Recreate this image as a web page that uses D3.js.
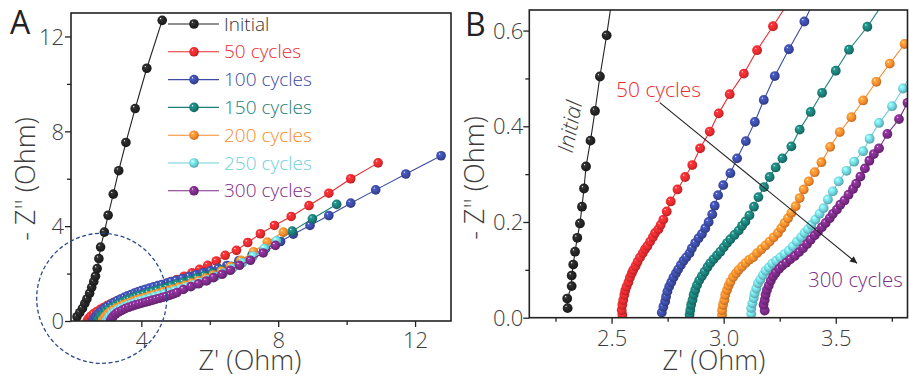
<!DOCTYPE html>
<html><head><meta charset="utf-8">
<script src="https://cdn.jsdelivr.net/npm/d3@7"></script>
<style>
body{margin:0;background:#fff;}
svg{display:block;font-family:"Open Sans","DejaVu Sans",sans-serif;}
</style></head><body>
<svg id="c" width="909" height="379"></svg>
<script>
// ---------- DATA ----------
const seriesNames = ["Initial","50 cycles","100 cycles","150 cycles","200 cycles","250 cycles","300 cycles"];
const seriesColors = ["#222222","#ea2b2f","#3c4ba4","#1b7e77","#f68b2d","#6fd0da","#7c2b87"];
const textColors = ["#333333","#ea2b2f","#3c4ba4","#1b7e77","#f68b2d","#6fd0da","#7c2b87"];

// Panel A (full spectra)
const initialA = [[2.12,0.18],[2.20,0.35],[2.28,0.53],[2.35,0.74],[2.41,0.93],[2.49,1.17],[2.55,1.42],[2.61,1.66],[2.66,1.89],[2.71,2.21],[2.76,2.63],[2.81,3.12],[2.92,3.75],[3.03,4.46],[3.18,5.35],[3.34,6.34],[3.55,7.53],[3.82,8.96],[4.16,10.66],[4.61,12.68]];
const cyc50A = [[2.42,0.02],[2.46,0.1],[2.52,0.2],[2.6,0.3],[2.7,0.4],[2.8,0.49],[2.9,0.57],[3.0,0.65],[3.1,0.72],[3.2,0.79],[3.3,0.85],[3.4,0.91],[3.5,0.96],[3.6,1.01],[3.7,1.06],[3.8,1.11],[3.9,1.16],[4.0,1.21],[4.12,1.27],[4.24,1.33],[4.36,1.39],[4.48,1.45],[4.6,1.51],[4.72,1.57],[4.84,1.64],[5.04,1.75],[5.25,1.89],[5.48,2.03],[5.70,2.18],[5.94,2.35],[6.19,2.53],[6.45,2.77],[6.78,2.98],[7.11,3.31],[7.48,3.68],[7.89,4.03],[8.38,4.41],[8.90,4.87],[9.48,5.39],[10.12,6.0],[10.92,6.67]];
const cyc100A = [[2.58,0.02],[2.62,0.1],[2.67,0.2],[2.74,0.31],[2.82,0.42],[2.91,0.52],[3.0,0.61],[3.1,0.7],[3.2,0.78],[3.3,0.86],[3.4,0.93],[3.5,1.0],[3.6,1.06],[3.7,1.12],[3.8,1.18],[3.9,1.23],[4.0,1.28],[4.12,1.34],[4.24,1.39],[4.36,1.44],[4.48,1.49],[4.6,1.54],[4.74,1.6],[4.88,1.66],[5.02,1.72],[5.2,1.79],[5.4,1.87],[5.6,1.95],[5.8,2.03],[6.02,2.12],[6.25,2.22],[6.5,2.34],[6.85,2.55],[7.24,2.8],[7.63,3.05],[8.07,3.35],[8.44,3.66],[8.93,4.03],[9.48,4.45],[10.12,4.97],[10.85,5.53],[11.73,6.20],[12.76,6.97]];
const cyc150A = [[2.72,0.02],[2.76,0.1],[2.81,0.2],[2.88,0.3],[2.96,0.4],[3.05,0.49],[3.15,0.58],[3.25,0.66],[3.35,0.73],[3.45,0.8],[3.55,0.86],[3.65,0.92],[3.75,0.97],[3.85,1.02],[3.95,1.07],[4.07,1.12],[4.2,1.18],[4.33,1.24],[4.46,1.3],[4.6,1.36],[4.74,1.42],[4.88,1.48],[5.04,1.55],[5.22,1.63],[5.42,1.72],[5.62,1.81],[5.84,1.91],[6.08,2.02],[6.34,2.15],[6.62,2.31],[6.92,2.51],[7.24,2.75],[7.58,3.02],[7.96,3.36],[8.41,3.79],[9.0,4.31],[9.71,4.92]];
const cyc200A = [[2.86,0.02],[2.9,0.1],[2.95,0.2],[3.02,0.3],[3.1,0.39],[3.19,0.47],[3.28,0.55],[3.38,0.62],[3.48,0.68],[3.58,0.74],[3.68,0.79],[3.78,0.84],[3.88,0.89],[3.98,0.94],[4.1,0.99],[4.23,1.05],[4.36,1.11],[4.5,1.17],[4.64,1.23],[4.78,1.29],[4.93,1.35],[5.1,1.43],[5.28,1.51],[5.47,1.6],[5.67,1.7],[5.88,1.81],[6.1,1.94],[6.34,2.1],[6.6,2.3],[6.91,2.56],[7.28,2.92],[7.68,3.33],[8.15,3.75]];
const cyc250A = [[2.98,0.02],[3.02,0.1],[3.07,0.2],[3.14,0.3],[3.22,0.39],[3.31,0.47],[3.41,0.54],[3.51,0.6],[3.61,0.66],[3.71,0.71],[3.81,0.76],[3.91,0.81],[4.01,0.86],[4.13,0.91],[4.26,0.97],[4.4,1.03],[4.54,1.09],[4.68,1.15],[4.83,1.21],[4.99,1.28],[5.16,1.36],[5.34,1.44],[5.53,1.53],[5.73,1.63],[5.94,1.74],[6.16,1.87],[6.4,2.02],[6.66,2.21],[6.95,2.45],[7.27,2.74],[7.6,3.06],[7.95,3.38]];
const cyc300A = [[3.1,0.02],[3.13,0.1],[3.18,0.2],[3.25,0.3],[3.33,0.38],[3.43,0.45],[3.53,0.52],[3.63,0.58],[3.73,0.63],[3.83,0.68],[3.93,0.72],[4.03,0.76],[4.13,0.8],[4.23,0.84],[4.33,0.88],[4.43,0.92],[4.53,0.96],[4.63,1.0],[4.73,1.04],[4.84,1.09],[4.94,1.14],[5.04,1.2],[5.23,1.33],[5.45,1.45],[5.67,1.57],[5.90,1.69],[6.11,1.83],[6.36,1.97],[6.60,2.14],[6.87,2.35],[7.19,2.56],[7.56,2.87],[7.92,3.19]];

// Panel B (high-frequency zoom)
const initialB = [[2.304,0.020],[2.302,0.040],[2.322,0.066],[2.322,0.088],[2.329,0.111],[2.337,0.138],[2.347,0.167],[2.359,0.197],[2.368,0.232],[2.377,0.270],[2.386,0.316],[2.406,0.370],[2.426,0.432],[2.448,0.504],[2.478,0.590],[2.50,0.66]];
const cyc50B = [[2.548,0.006],[2.545,0.016],[2.548,0.027],[2.552,0.037],[2.557,0.048],[2.561,0.057],[2.567,0.065],[2.575,0.074],[2.582,0.084],[2.590,0.093],[2.597,0.100],[2.607,0.108],[2.616,0.117],[2.627,0.126],[2.639,0.135],[2.649,0.143],[2.660,0.150],[2.672,0.159],[2.684,0.168],[2.694,0.177],[2.709,0.185],[2.719,0.194],[2.731,0.205],[2.746,0.222],[2.764,0.243],[2.794,0.268],[2.828,0.294],[2.860,0.319],[2.895,0.354],[2.938,0.389],[2.978,0.427],[3.027,0.467],[3.090,0.510],[3.149,0.559],[3.220,0.609],[3.29,0.66]];
const cyc100B = [[2.724,0.011],[2.731,0.023],[2.739,0.034],[2.743,0.044],[2.749,0.055],[2.757,0.065],[2.766,0.074],[2.776,0.084],[2.787,0.093],[2.797,0.101],[2.809,0.110],[2.821,0.119],[2.833,0.126],[2.848,0.135],[2.858,0.145],[2.873,0.156],[2.888,0.166],[2.903,0.175],[2.918,0.187],[2.933,0.200],[2.949,0.216],[2.960,0.234],[2.975,0.256],[2.998,0.277],[3.030,0.302],[3.060,0.333],[3.099,0.369],[3.139,0.409],[3.179,0.455],[3.228,0.505],[3.291,0.561],[3.360,0.619],[3.41,0.67]];
const cyc150B = [[2.848,0.006],[2.851,0.016],[2.855,0.027],[2.861,0.037],[2.866,0.048],[2.873,0.058],[2.881,0.068],[2.891,0.078],[2.903,0.087],[2.915,0.096],[2.928,0.106],[2.940,0.114],[2.955,0.122],[2.970,0.130],[2.985,0.138],[3.000,0.147],[3.015,0.156],[3.030,0.164],[3.048,0.173],[3.067,0.182],[3.082,0.192],[3.097,0.201],[3.115,0.214],[3.135,0.232],[3.155,0.252],[3.180,0.273],[3.205,0.294],[3.232,0.314],[3.262,0.333],[3.302,0.358],[3.339,0.393],[3.388,0.430],[3.439,0.470],[3.500,0.516],[3.559,0.560],[3.641,0.608],[3.73,0.67]];
const cyc200B = [[2.993,0.006],[2.993,0.016],[2.997,0.027],[3.003,0.037],[3.007,0.048],[3.015,0.058],[3.022,0.067],[3.030,0.075],[3.042,0.085],[3.055,0.093],[3.067,0.100],[3.082,0.107],[3.097,0.114],[3.114,0.121],[3.131,0.126],[3.149,0.135],[3.168,0.143],[3.187,0.151],[3.205,0.159],[3.223,0.168],[3.242,0.177],[3.257,0.187],[3.272,0.198],[3.287,0.208],[3.302,0.219],[3.321,0.233],[3.339,0.250],[3.357,0.268],[3.380,0.285],[3.406,0.304],[3.436,0.325],[3.475,0.357],[3.518,0.388],[3.570,0.419],[3.622,0.454],[3.681,0.493],[3.741,0.531],[3.807,0.572],[3.87,0.61]];
const cyc250B = [[3.123,0.008],[3.123,0.020],[3.128,0.030],[3.134,0.041],[3.138,0.051],[3.146,0.061],[3.153,0.072],[3.164,0.080],[3.175,0.089],[3.187,0.098],[3.202,0.105],[3.217,0.113],[3.235,0.119],[3.253,0.126],[3.272,0.133],[3.291,0.140],[3.309,0.149],[3.327,0.159],[3.346,0.168],[3.361,0.177],[3.376,0.185],[3.391,0.194],[3.409,0.205],[3.428,0.217],[3.446,0.229],[3.465,0.247],[3.487,0.264],[3.513,0.285],[3.548,0.307],[3.582,0.326],[3.622,0.348],[3.651,0.374],[3.693,0.407],[3.751,0.442],[3.800,0.479],[3.85,0.52]];
const cyc300B = [[3.183,0.015],[3.178,0.027],[3.183,0.037],[3.187,0.048],[3.193,0.058],[3.201,0.067],[3.210,0.077],[3.220,0.086],[3.232,0.094],[3.247,0.102],[3.262,0.109],[3.279,0.115],[3.297,0.122],[3.317,0.129],[3.336,0.137],[3.354,0.145],[3.372,0.154],[3.388,0.163],[3.406,0.172],[3.421,0.180],[3.438,0.189],[3.455,0.198],[3.473,0.208],[3.487,0.217],[3.505,0.226],[3.520,0.236],[3.539,0.245],[3.557,0.257],[3.577,0.269],[3.591,0.280],[3.610,0.295],[3.630,0.312],[3.650,0.328],[3.670,0.342],[3.693,0.354],[3.730,0.384],[3.782,0.415],[3.820,0.449],[3.86,0.48]];

// Ticks
const xTicksA = [4,8,12], xMinorA = [6,10];
const yTicksA = [0,4,8,12], yMinorA = [2,6,10];
const xTicksB = [2.5,3.0,3.5], xMinorB = [2.25,2.75,3.25,3.75];
const yTicksB = [0.0,0.2,0.4,0.6], yMinorB = [0.1,0.3,0.5];

const seriesA = [initialA,cyc50A,cyc100A,cyc150A,cyc200A,cyc250A,cyc300A];
const seriesB = [initialB,cyc50B,cyc100B,cyc150B,cyc200B,cyc250B,cyc300B];

// ---------- DRAW ----------
const svg = d3.select("#c");
const defs = svg.append("defs");
seriesColors.forEach((c,i)=>{
  const g = defs.append("radialGradient").attr("id","g"+i)
    .attr("cx","0.45").attr("cy","0.45").attr("r","0.6").attr("fx","0.33").attr("fy","0.3");
  g.append("stop").attr("offset","0").attr("stop-color","#ffffff");
  g.append("stop").attr("offset","0.18").attr("stop-color", d3.color(c).brighter(i===0?1.2:0.6).formatHex());
  g.append("stop").attr("offset","0.62").attr("stop-color", c);
  g.append("stop").attr("offset","1").attr("stop-color", d3.color(c).darker(0.9).formatHex());
});
defs.append("marker").attr("id","arrow").attr("viewBox","0 0 10 10").attr("refX",10).attr("refY",5)
  .attr("markerWidth",9).attr("markerHeight",7).attr("orient","auto").attr("markerUnits","userSpaceOnUse")
  .append("path").attr("d","M0,0 L10,5 L0,10 z").attr("fill","#222");

const TXT = "#3d3d3d";

function panel(cfg){
  const {x,y,data,id,xT,xM,yT,yM,fmt,xLabOff,yLabOff,r} = cfg;
  const [x0,x1] = x.range(), [y0,y1] = y.range();
  defs.append("clipPath").attr("id",id).append("rect")
    .attr("x",x0).attr("y",y1).attr("width",x1-x0).attr("height",y0-y1);
  const gx = svg.append("g").attr("transform",`translate(0,${y0})`);
  gx.call(d3.axisBottom(x).tickValues(xT).tickSize(6).tickFormat(fmt));
  gx.append("g").call(d3.axisBottom(x).tickValues(xM).tickSize(4).tickFormat(""));
  const gy = svg.append("g").attr("transform",`translate(${x0},0)`);
  gy.call(d3.axisLeft(y).tickValues(yT).tickSize(6).tickFormat(fmt));
  gy.append("g").call(d3.axisLeft(y).tickValues(yM).tickSize(4).tickFormat(""));
  svg.selectAll(".domain").remove();
  [gx,gy].forEach(g=>{
    g.selectAll("line").attr("stroke","#222").attr("stroke-width",1.3);
    g.selectAll("text").attr("font-size",22).attr("fill",TXT).attr("font-weight",300)
      .attr("font-family","'Open Sans',sans-serif");
  });
  gx.selectAll("text").attr("y",xLabOff).attr("dy","0.35em");
  gy.selectAll("text").attr("x",-yLabOff).attr("dy","0.35em");

  const plot = svg.append("g").attr("clip-path",`url(#${id})`);
  const line = d3.line().x(d=>x(d[0])).y(d=>y(d[1]));
  data.forEach((s,i)=>{
    const g = plot.append("g");
    g.append("path").attr("d",line(s)).attr("fill","none").attr("stroke",seriesColors[i]).attr("stroke-width",1.1);
    g.selectAll("circle").data(s).join("circle")
      .attr("cx",d=>x(d[0])).attr("cy",d=>y(d[1])).attr("r",r)
      .attr("fill",`url(#g${i})`);
  });
  svg.append("rect").attr("x",x0).attr("y",y1).attr("width",x1-x0).attr("height",y0-y1)
    .attr("fill","none").attr("stroke","#222").attr("stroke-width",1.6);
}

const xA = d3.scaleLinear().domain([1.945,13.05]).range([71,451]);
const yA = d3.scaleLinear().domain([0,12.99]).range([321,13]);
const xB = d3.scaleLinear().domain([2.133,3.82]).range([529.3,907.5]);
const yB = d3.scaleLinear().domain([0,0.643]).range([317.7,10]);

panel({x:xA,y:yA,data:seriesA,id:"clipA",xT:xTicksA,xM:xMinorA,yT:yTicksA,yM:yMinorA,fmt:d3.format("d"),xLabOff:19,yLabOff:7,r:4.8});
panel({x:xB,y:yB,data:seriesB,id:"clipB",xT:xTicksB,xM:xMinorB,yT:yTicksB,yM:yMinorB,fmt:d3.format(".1f"),xLabOff:21,yLabOff:6,r:4.9});

// dashed circle in A
svg.append("circle").attr("cx",xA(2.842)).attr("cy",yA(0.955)).attr("r",65)
  .attr("fill","none").attr("stroke","#2b4a8c").attr("stroke-width",1.3).attr("stroke-dasharray","4,2.5");

// legend in A
const leg = svg.append("g");
seriesNames.forEach((n,i)=>{
  const yy = 24 + i*27.8;
  leg.append("line").attr("x1",168).attr("x2",219).attr("y1",yy).attr("y2",yy)
    .attr("stroke",seriesColors[i]).attr("stroke-width",1.1);
  leg.append("circle").attr("cx",194).attr("cy",yy).attr("r",4.8).attr("fill",`url(#g${i})`);
  leg.append("text").attr("x",224).attr("y",yy).attr("dy","0.35em").attr("font-size",19).attr("font-weight",300)
    .attr("fill",textColors[i]).text(n);
});

// axis titles
function title(t,x,y,rot){
  svg.append("text").attr("transform",`translate(${x},${y}) rotate(${rot})`)
    .attr("text-anchor","middle").attr("font-size",27).attr("font-weight",300).attr("fill",TXT).text(t);
}
title("Z' (Ohm)",250,370,0);
title("Z' (Ohm)",714,370,0);
title("- Z'' (Ohm)",35,179,-90);
title("- Z'' (Ohm)",484,178,-90);

// panel letters
svg.append("text").attr("x",10).attr("y",34).attr("font-size",32).attr("fill","#222").text("A");
svg.append("text").attr("x",465).attr("y",36).attr("font-size",32).attr("fill","#222").text("B");

// annotations in B
svg.append("text").attr("transform",`translate(${xB(2.314)},${yB(0.399)}) rotate(-79)`)
  .attr("text-anchor","middle").attr("dy","0.35em").attr("font-size",22).attr("font-style","italic").attr("font-weight",300)
  .attr("fill",TXT).text("Initial");
svg.append("text").attr("x",xB(2.52)).attr("y",yB(0.462)).attr("font-size",21).attr("font-weight",300).attr("fill",textColors[1]).text("50 cycles");
svg.append("text").attr("x",xB(3.376)).attr("y",yB(0.065)).attr("font-size",20.5).attr("font-weight",300).attr("fill",textColors[6]).text("300 cycles");
svg.append("line").attr("x1",xB(2.715)).attr("y1",yB(0.4495)).attr("x2",xB(3.595)).attr("y2",yB(0.1137))
  .attr("stroke","#222").attr("stroke-width",1.1).attr("marker-end","url(#arrow)");
</script></body></html>
